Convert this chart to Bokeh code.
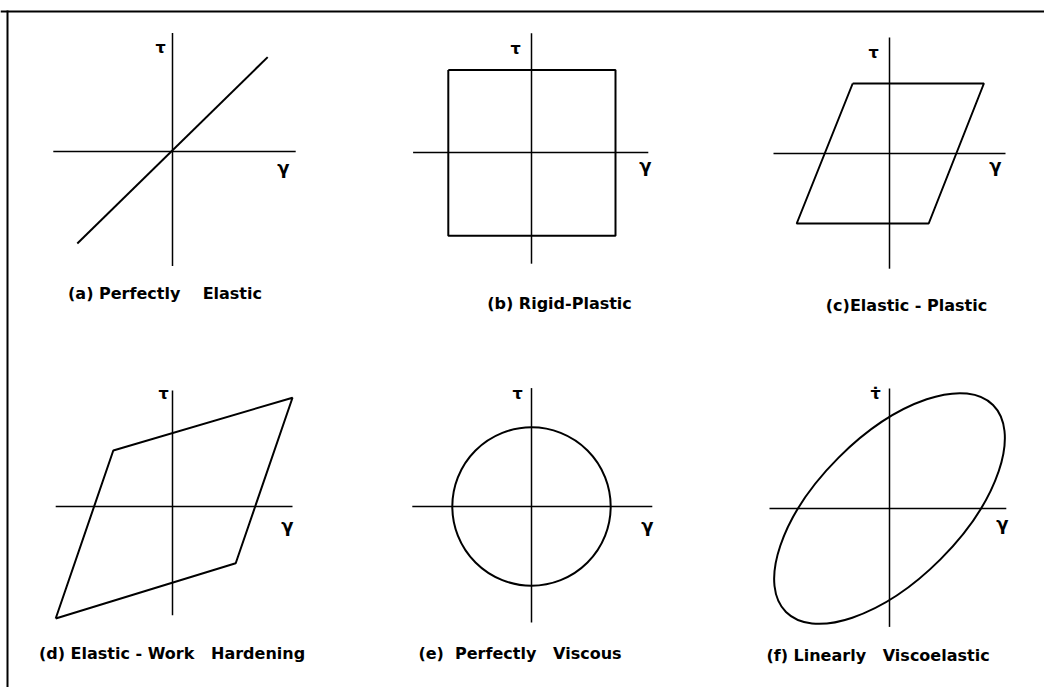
import numpy as np
from bokeh.plotting import figure
from bokeh.models import Range1d, Span
from bokeh.embed import file_html
from bokeh.resources import INLINE
from bokeh.core.properties import value

# ---------------- data (one unit = radius of the viscous circle) ----------------
NB = "\u00a0"
captions = ["(a) Perfectly" + NB * 4 + "Elastic",
            "(b) Rigid-Plastic",
            "(c)Elastic" + NB + "-" + NB + "Plastic",
            "(d) Elastic" + NB + "-" + NB + "Work" + NB * 3 + "Hardening",
            "(e)" + NB * 2 + "Perfectly" + NB * 3 + "Viscous",
            "(f)" + NB + "Linearly" + NB * 3 + "Viscoelastic"]
tau_labels = ["τ", "τ", "τ", "τ", "τ", "τ̇"]
gamma_label = "γ"

# axis extents for each panel
gamma_axis_min = [-1.49, -1.48, -1.45, -1.46, -1.49, -1.50]
gamma_axis_max = [1.54, 1.46, 1.45, 1.50, 1.51, 1.46]
tau_axis_min = [-1.43, -1.39, -1.44, -1.36, -1.45, -1.48]
tau_axis_max = [1.48, 1.49, 1.45, 1.45, 1.48, 1.50]

# (a) perfectly elastic
elastic_gamma = [-1.19, 1.19]
elastic_tau = [-1.15, 1.18]
# (b) rigid-plastic
rigid_gamma = [-1.04, 1.05, 1.05, -1.04, -1.04]
rigid_tau = [1.03, 1.03, -1.04, -1.04, 1.03]
# (c) elastic-plastic
ep_gamma = [-0.46, 1.18, 0.49, -1.16, -0.46]
ep_tau = [0.875, 0.875, -0.875, -0.875, 0.875]
# (d) elastic-work hardening
wh_gamma = [-1.46, -0.74, 1.50, 0.79, -1.46]
wh_tau = [-1.40, 0.70, 1.36, -0.71, -1.40]
# (e) perfectly viscous
viscous_radius = 0.99
# (f) linearly viscoelastic (ellipse semi-axes, tilt)
ve_major = 1.83
ve_minor = 0.90
ve_angle_deg = 45

# ---------------- layout ----------------
W, H = 1044, 687
S = 80.0  # px per unit
origins = [(172, 151), (531, 152), (889, 153), (172, 506), (531, 506), (889, 508)]
tau_off = [(-12, 104), (-16, 104), (-16, 101), (-9, 113), (-14, 113), (-14, 115)]
gamma_off = [(111, -16), (114, -13), (106, -12), (115, -19), (116, -19), (113, -15)]
cap_off = [(-7.5, -142), (28, -151), (17, -152), (-0.5, -147), (-11.5, -147), (-11.5, -147)]


def X(u, i):
    return origins[i][0] + S * np.asarray(u, dtype=float)


def Y(v, i):
    return H - origins[i][1] + S * np.asarray(v, dtype=float)


p = figure(width=W, height=H, x_range=Range1d(0, W), y_range=Range1d(0, H),
           output_backend="svg", toolbar_location=None, min_border=0,
           x_axis_location=None, y_axis_location=None)
p.grid.visible = False
p.outline_line_color = None
p.background_fill_color = "white"
p.border_fill_color = "white"

# frame lines (top and left only)
p.add_layout(Span(location=H - 11, dimension="width", line_color="black", line_width=2))
p.segment(x0=[7], y0=[0], x1=[7], y1=[H - 10], line_color="black", line_width=2)

font = value("DejaVu Sans")
for i in range(6):
    # axes
    p.line(X([gamma_axis_min[i], gamma_axis_max[i]], i), Y([0, 0], i), line_color="black", line_width=1.5)
    p.line(X([0, 0], i), Y([tau_axis_min[i], tau_axis_max[i]], i), line_color="black", line_width=1.5)
    ox, oy = X(0, i), Y(0, i)
    p.text(x=[ox + tau_off[i][0]], y=[oy + tau_off[i][1]], text=[tau_labels[i]],
           text_font=font, text_font_size="16px", text_font_style="bold",
           text_align="center", text_baseline="middle", text_color="black")
    p.text(x=[ox + gamma_off[i][0]], y=[oy + gamma_off[i][1]], text=[gamma_label],
           text_font=font, text_font_size="18px", text_font_style="bold",
           text_align="center", text_baseline="middle", text_color="black")
    p.text(x=[ox + cap_off[i][0]], y=[oy + cap_off[i][1]], text=[captions[i]],
           text_font=font, text_font_size="16px", text_font_style="bold",
           text_align="center", text_baseline="middle", text_color="black")

lw = 2
p.line(X(elastic_gamma, 0), Y(elastic_tau, 0), line_color="black", line_width=lw)
p.line(X(rigid_gamma, 1), Y(rigid_tau, 1), line_color="black", line_width=lw)
p.line(X(ep_gamma, 2), Y(ep_tau, 2), line_color="black", line_width=lw)
p.line(X(wh_gamma, 3), Y(wh_tau, 3), line_color="black", line_width=lw)
p.ellipse(x=[float(X(0, 4))], y=[float(Y(0, 4))], width=2 * viscous_radius * S,
          height=2 * viscous_radius * S, fill_color=None, line_color="black", line_width=lw)
p.ellipse(x=[float(X(0, 5))], y=[float(Y(0, 5))], width=2 * ve_major * S,
          height=2 * ve_minor * S, angle=np.radians(ve_angle_deg),
          fill_color=None, line_color="black", line_width=lw)

open("out.html", "w").write(file_html(p, INLINE))
